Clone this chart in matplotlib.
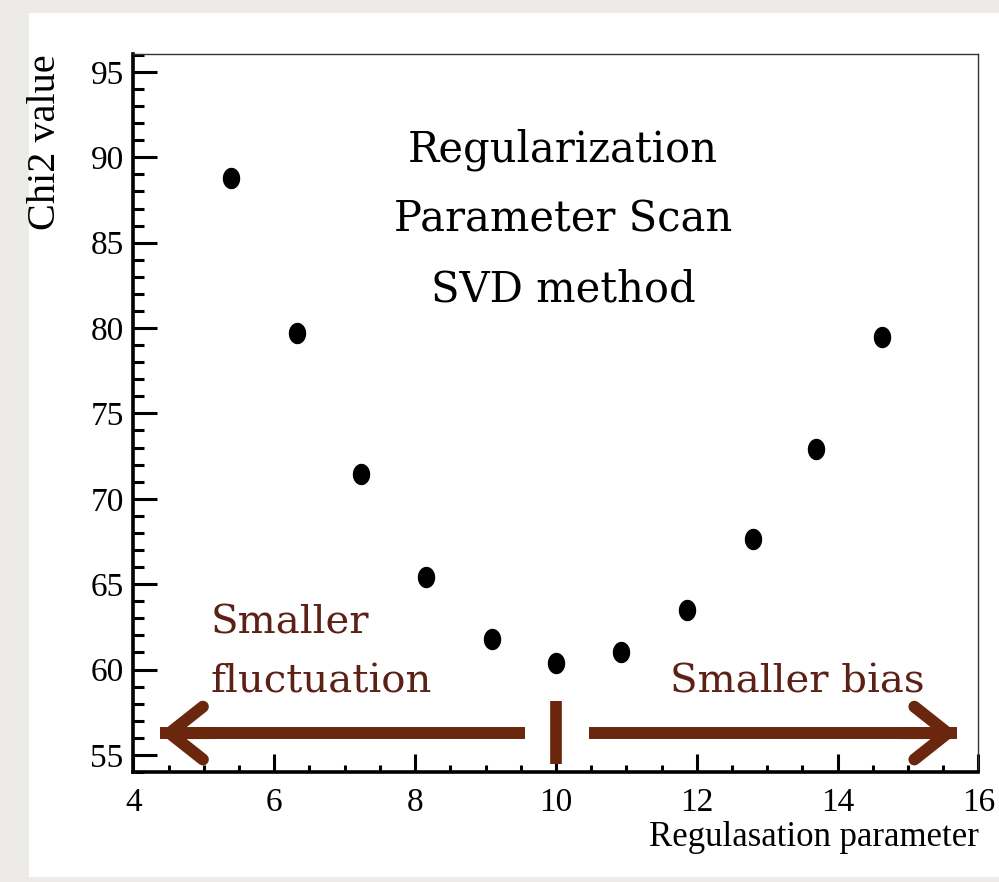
import numpy as np
import matplotlib
matplotlib.use('Agg')
import matplotlib.pyplot as plt
from matplotlib.path import Path
from matplotlib.patches import Rectangle, ArrowStyle
from matplotlib.ticker import MultipleLocator

# chi2 of the unfolded result for each value of the regularisation parameter
reg_param = [5.39, 6.32, 7.23, 8.15, 9.09, 10.00, 10.93, 11.86, 12.80, 13.69, 14.63]
chi2 = [88.81, 79.70, 71.44, 65.44, 61.79, 60.41, 61.05, 63.49, 67.65, 72.92, 79.46]
best_param = 10.0

x_ticks = [4, 6, 8, 10, 12, 14, 16]
y_ticks = [55, 60, 65, 70, 75, 80, 85, 90, 95]

TICK_FONT = 'Liberation Serif'
NOTE_FONT = 'DejaVu Serif'
BROWN_TEXT = '#5c2016'
BROWN_ARROW = '#6b260e'

fig = plt.figure(figsize=(9.99, 8.82), dpi=100, facecolor='#ecebe7')
fig.add_artist(Rectangle((29 / 999, 1 - 877 / 882), 970 / 999, 864 / 882,
                         transform=fig.transFigure, facecolor='white',
                         edgecolor='none', zorder=-1))

ax = fig.add_axes([0.1336, 0.1247, 0.8458, 0.8141])
ax.set_xlim(4, 16)
ax.set_ylim(54.0, 96.05)

# slightly tall dots
t = np.linspace(0, 2 * np.pi, 60)
dot = Path(np.column_stack([0.8 * np.cos(t), np.sin(t)]), closed=True)
ax.plot(reg_param, chi2, ls='none', marker=dot, ms=14.4, color='black', zorder=5)

# axes styling
for s in ['left', 'bottom']:
    ax.spines[s].set_linewidth(2.6)
for s in ['top', 'right']:
    ax.spines[s].set_linewidth(1.0)
    ax.spines[s].set_color('#333333')

ax.set_xticks(x_ticks)
ax.set_xticklabels([str(v) for v in x_ticks])
ax.set_yticks(y_ticks)
ax.set_yticklabels([str(v) for v in y_ticks])
ax.xaxis.set_minor_locator(MultipleLocator(0.5))
ax.yaxis.set_minor_locator(MultipleLocator(1))
ax.tick_params(which='both', direction='in', top=False, right=False,
               width=2.2, color='black', labelsize=24)
ax.tick_params(axis='y', which='major', length=17, pad=7)
ax.tick_params(axis='y', which='minor', length=8)
ax.tick_params(axis='x', which='major', length=13, pad=11)
ax.tick_params(axis='x', which='minor', length=5)
for lab in ax.get_xticklabels() + ax.get_yticklabels():
    lab.set_fontfamily(TICK_FONT)

ax.set_xlabel('Regulasation parameter', loc='right', fontsize=25,
              fontfamily=TICK_FONT, labelpad=2)
ax.set_ylabel('Chi2 value', loc='top', fontsize=29,
              fontfamily=TICK_FONT, labelpad=19)

# title block inside the frame (va='baseline' pins the last line)
ax.text(10.10, 81.53, 'Regularization\nParameter Scan\nSVD method',
        ha='center', va='baseline', multialignment='center',
        fontsize=30, fontfamily=NOTE_FONT, linespacing=1.85, color='black')

# direction notes
ax.text(5.09, 58.63, 'Smaller\nfluctuation', ha='left', va='baseline',
        fontsize=29, fontfamily=NOTE_FONT, linespacing=1.77, color=BROWN_TEXT)
ax.text(15.24, 58.63, 'Smaller bias', ha='right', va='baseline',
        fontsize=29, fontfamily=NOTE_FONT, color=BROWN_TEXT)

arrow_y = 56.28
head = ArrowStyle('->', head_length=24, head_width=19)
for tail, tip in [(9.56, 4.376), (10.47, 15.70)]:
    ax.plot([tail, tip], [arrow_y, arrow_y], color=BROWN_ARROW, lw=8.6,
            solid_capstyle='butt', zorder=4)
    back = tip + (tail - tip) * 0.15
    ax.annotate('', xy=(tip, arrow_y), xytext=(back, arrow_y),
                arrowprops=dict(arrowstyle=head, color=BROWN_ARROW, lw=8.6,
                                mutation_scale=1, shrinkA=0, shrinkB=0,
                                capstyle='round', joinstyle='miter'),
                zorder=4)

# marker at the chosen parameter
ax.plot([best_param, best_param], [54.46, 58.18], color=BROWN_ARROW, lw=8.4,
        solid_capstyle='butt', zorder=4)

fig.savefig('out.png', dpi=100, facecolor=fig.get_facecolor())
